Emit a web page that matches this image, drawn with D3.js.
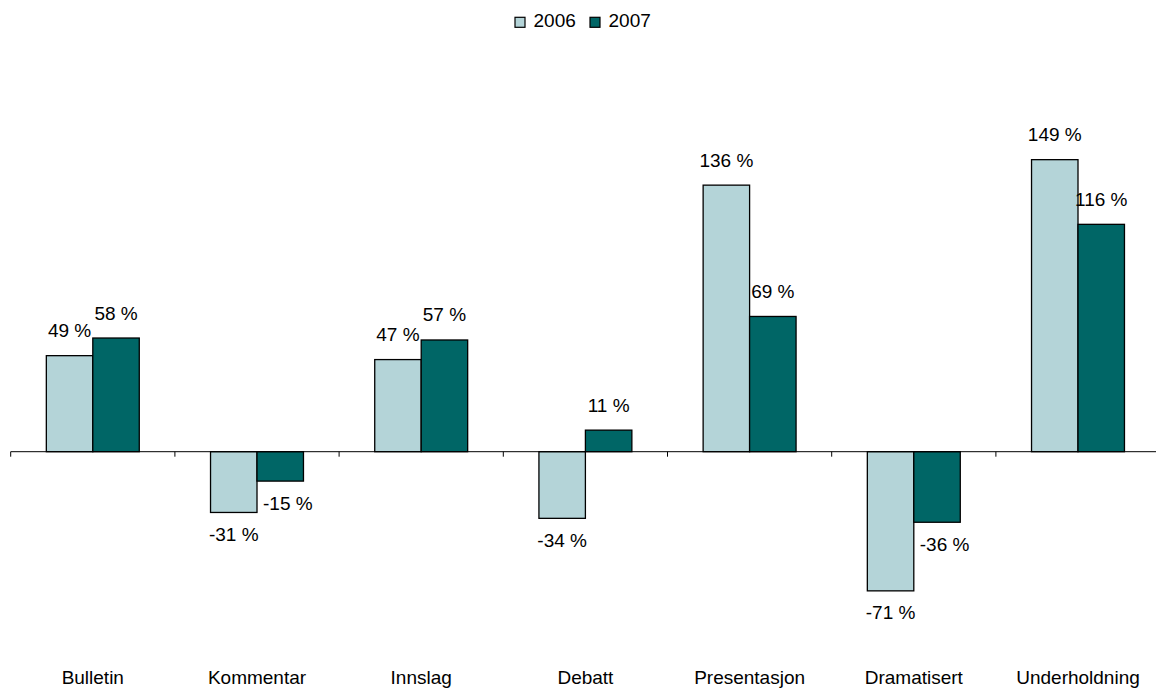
<!DOCTYPE html>
<html>
<head>
<meta charset="utf-8">
<script src="https://cdn.jsdelivr.net/npm/d3@7"></script>
<style>
  html, body { margin: 0; padding: 0; background: #fff; }
  svg { display: block; }
  text { font-family: Arial, "Liberation Sans", sans-serif; fill: #000; }
</style>
</head>
<body>
<svg id="chart" width="1156" height="689"></svg>
<script>
const categories = ["Bulletin", "Kommentar", "Innslag", "Debatt", "Presentasjon", "Dramatisert", "Underholdning"];
const seriesNames = ["2006", "2007"];
const values2006 = [49, -31, 47, -34, 136, -71, 149];
const values2007 = [58, -15, 57, 11, 69, -36, 116];
const colors = ["#b4d4d8", "#006666"];

const series = [values2006, values2007];
const data = [];
categories.forEach((c, i) => {
  seriesNames.forEach((s, j) => data.push({ cat: c, ser: s, si: j, value: series[j][i], i }));
});

const svg = d3.select("#chart");
const fontSize = 19;

const x0 = d3.scaleBand().domain(categories).range([10.7, 1160.1]).paddingInner(0).paddingOuter(0);
const innerPad = 0.217;
const x1 = d3.scaleBand().domain(seriesNames)
  .range([x0.bandwidth() * innerPad, x0.bandwidth() * (1 - innerPad)]).padding(0);

const pxPerUnit = 1.96;
const zeroY = 451.7;
const y = d3.scaleLinear().domain([-80, 160]).range([zeroY + 80 * pxPerUnit, zeroY - 160 * pxPerUnit]);

// bars
svg.append("g").selectAll("rect").data(data).join("rect")
  .attr("x", d => x0(d.cat) + x1(d.ser))
  .attr("y", d => Math.min(y(d.value), y(0)))
  .attr("width", x1.bandwidth())
  .attr("height", d => Math.abs(y(d.value) - y(0)))
  .attr("fill", d => colors[d.si])
  .attr("stroke", "#000")
  .attr("stroke-width", 1.3);

// axis at zero with ticks at category boundaries
const axisG = svg.append("g").attr("transform", `translate(0,${y(0)})`);
axisG.append("line").attr("x1", x0.range()[0]).attr("x2", x0.range()[1])
  .attr("stroke", "#000").attr("stroke-width", 1);
const boundaries = categories.map(c => x0(c)).concat([x0.range()[1]]);
axisG.selectAll("line.tick").data(boundaries).join("line").attr("class", "tick")
  .attr("x1", d => d).attr("x2", d => d).attr("y1", 0).attr("y2", 5)
  .attr("stroke", "#000").attr("stroke-width", 1);

// value labels
svg.append("g").selectAll("text").data(data).join("text")
  .attr("font-size", fontSize)
  .attr("text-anchor", d => {
    if (d.value < 0 && d.si === 1 && series[0][d.i] < d.value) return "start";
    return "middle";
  })
  .attr("x", d => {
    const bx = x0(d.cat) + x1(d.ser);
    if (d.value < 0 && d.si === 1 && series[0][d.i] < d.value) return bx + 6;
    return bx + x1.bandwidth() / 2;
  })
  .attr("y", d => d.value >= 0 ? y(d.value) - 18.5 : y(d.value) + 28.5)
  .text(d => d.value + " %");

// category labels
svg.append("g").selectAll("text").data(categories).join("text")
  .attr("font-size", fontSize)
  .attr("text-anchor", "middle")
  .attr("x", d => x0(d) + x0.bandwidth() / 2)
  .attr("y", 684)
  .text(d => d);

// legend
const legendX = [515, 590];
const lg = svg.append("g");
seriesNames.forEach((s, j) => {
  lg.append("rect").attr("x", legendX[j]).attr("y", 17.3).attr("width", 10).attr("height", 10)
    .attr("fill", colors[j]).attr("stroke", "#000").attr("stroke-width", 1.2);
  lg.append("text").attr("x", legendX[j] + 18.5).attr("y", 26.8)
    .attr("font-size", fontSize).text(s);
});
</script>
</body>
</html>
